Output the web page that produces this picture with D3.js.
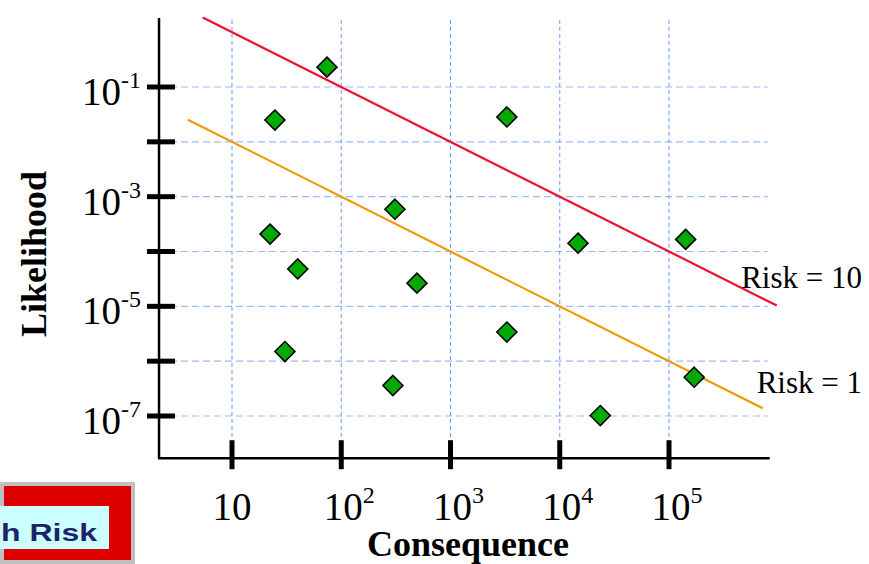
<!DOCTYPE html>
<html>
<head>
<meta charset="utf-8">
<script src="https://cdn.jsdelivr.net/npm/d3@7"></script>
<style>
  body { margin: 0; background: #fff; }
  svg { display: block; }
</style>
</head>
<body>
<script>
// exponents of the decade ticks
const xTickExp = [1, 2, 3, 4, 5];
const yTickExp = [-1, -2, -3, -4, -5, -6, -7];
const yLabelExp = [-1, -3, -5, -7];

// consequence / likelihood of each event
const consequence = [74, 24.7, 3280, 310, 22.3, 14700, 142000, 40, 493, 3280, 30.5, 297, 170000, 23500];
const likelihood = [0.23, 0.025, 0.0284, 5.9e-4, 2.08e-4, 1.42e-4, 1.66e-4, 4.8e-5, 2.65e-5, 3.4e-6, 1.5e-6, 3.6e-7, 5.1e-7, 1.02e-7];

// iso-risk lines: L = k / C
const riskLabels = ['Risk = 10', 'Risk = 1'];
const riskK = [10, 0.1];
const riskFrom = [5.4, 3.95];
const riskTo = [9.7e5, 7.2e5];
const riskColors = ['#ee1133', '#ee9900'];

const width = 869, height = 564;

const x = d3.scaleLog().domain([10, 1e5]).range([232, 669]);
const y = d3.scaleLog().domain([1e-1, 1e-7]).range([87, 416]);
const xExtent = [Math.pow(10, 0.332), Math.pow(10, 5.922)];
const yExtent = [Math.pow(10, 0.26), Math.pow(10, -7.77)];

const svg = d3.select('body').append('svg')
  .attr('width', width)
  .attr('height', height);

// grid
svg.append('g').selectAll('line')
  .data(yTickExp).enter().append('line')
  .attr('x1', x(xExtent[0])).attr('x2', x(xExtent[1]) - 2)
  .attr('y1', d => y(Math.pow(10, d))).attr('y2', d => y(Math.pow(10, d)))
  .attr('stroke', '#99bbff').attr('stroke-width', 1.2)
  .attr('stroke-dasharray', '7,4');

svg.append('g').selectAll('line')
  .data(xTickExp).enter().append('line')
  .attr('x1', d => x(Math.pow(10, d))).attr('x2', d => x(Math.pow(10, d)))
  .attr('y1', y(yExtent[0]) + 2).attr('y2', y(yExtent[1]))
  .attr('stroke', '#6699ff').attr('stroke-width', 1)
  .attr('stroke-dasharray', '4,3');

// axes
svg.append('line')
  .attr('x1', x(xExtent[0])).attr('x2', x(xExtent[0]))
  .attr('y1', y(yExtent[0])).attr('y2', y(yExtent[1]))
  .attr('stroke', '#000').attr('stroke-width', 2.5);
svg.append('line')
  .attr('x1', x(xExtent[0]) - 1).attr('x2', x(xExtent[1]))
  .attr('y1', y(yExtent[1])).attr('y2', y(yExtent[1]))
  .attr('stroke', '#000').attr('stroke-width', 2.5);

svg.append('g').selectAll('line')
  .data(yTickExp).enter().append('line')
  .attr('x1', x(xExtent[0]) - 12).attr('x2', x(xExtent[0]) + 16)
  .attr('y1', d => y(Math.pow(10, d))).attr('y2', d => y(Math.pow(10, d)))
  .attr('stroke', '#000').attr('stroke-width', 5);

svg.append('g').selectAll('line')
  .data(xTickExp).enter().append('line')
  .attr('x1', d => x(Math.pow(10, d))).attr('x2', d => x(Math.pow(10, d)))
  .attr('y1', y(yExtent[1]) - 18).attr('y2', y(yExtent[1]) + 11)
  .attr('stroke', '#000').attr('stroke-width', 5);

// tick labels
const font = '"Liberation Serif", "Times New Roman", serif';

const xl = svg.append('g').selectAll('text')
  .data(xTickExp).enter().append('text')
  .attr('x', d => x(Math.pow(10, d)) + (d === 1 ? 0 : 8))
  .attr('y', 520)
  .attr('text-anchor', 'middle')
  .attr('font-family', font).attr('font-size', 39);
xl.append('tspan').text('10');
xl.filter(d => d !== 1).append('tspan')
  .attr('dy', -17).attr('font-size', 24).text(d => d);

const yl = svg.append('g').selectAll('text')
  .data(yLabelExp).enter().append('text')
  .attr('x', 141)
  .attr('y', d => y(Math.pow(10, d)) + 18)
  .attr('text-anchor', 'end')
  .attr('font-family', font).attr('font-size', 39);
yl.append('tspan').text('10');
yl.append('tspan')
  .attr('dy', -17).attr('font-size', 24).text(d => '-' + Math.abs(d));

// axis titles
svg.append('text')
  .attr('x', 468).attr('y', 556)
  .attr('text-anchor', 'middle')
  .attr('font-family', font).attr('font-weight', 'bold').attr('font-size', 36)
  .text('Consequence');
svg.append('text')
  .attr('transform', 'translate(46,254) rotate(-90)')
  .attr('text-anchor', 'middle')
  .attr('font-family', font).attr('font-weight', 'bold').attr('font-size', 36)
  .text('Likelihood');

// risk lines
const line = d3.line().x(d => x(d[0])).y(d => y(d[1]));
svg.append('g').selectAll('path')
  .data(riskK).enter().append('path')
  .attr('d', (k, i) => line([[riskFrom[i], k / riskFrom[i]], [riskTo[i], k / riskTo[i]]]))
  .attr('stroke', (k, i) => riskColors[i])
  .attr('stroke-width', 2.2)
  .attr('fill', 'none');

svg.append('g').selectAll('text')
  .data(riskLabels).enter().append('text')
  .attr('x', 862)
  .attr('y', (d, i) => i === 0 ? 288 : 393)
  .attr('text-anchor', 'end')
  .attr('font-family', font).attr('font-size', 31)
  .text(d => d);

// events
svg.append('g').selectAll('path')
  .data(consequence).enter().append('path')
  .attr('d', 'M0,-10L10,0L0,10L-10,0Z')
  .attr('transform', (c, i) => 'translate(' + x(c) + ',' + y(likelihood[i]) + ')')
  .attr('fill', '#00aa00')
  .attr('stroke', '#000')
  .attr('stroke-width', 1.6);

// cropped "High Risk" badge
const badge = svg.append('g');
badge.append('rect').attr('x', -2).attr('y', 482).attr('width', 137).attr('height', 90).attr('fill', '#c0c0c0');
badge.append('rect').attr('x', 4).attr('y', 486).attr('width', 127).attr('height', 74).attr('fill', '#dd0000');
badge.append('rect').attr('x', -2).attr('y', 506).attr('width', 111).attr('height', 43).attr('fill', '#ccffff');
badge.append('text')
  .attr('x', 1).attr('y', 541)
  .attr('font-family', '"Liberation Sans", Arial, sans-serif').attr('font-weight', 'bold').attr('font-size', 23)
  .attr('textLength', 96).attr('lengthAdjust', 'spacingAndGlyphs')
  .attr('fill', '#1a2466')
  .text('h Risk');
</script>
</body>
</html>
